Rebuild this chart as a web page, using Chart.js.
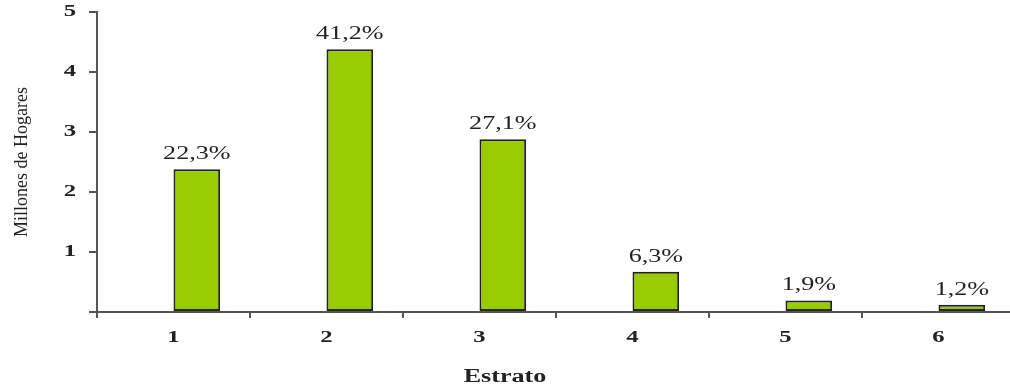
<!DOCTYPE html>
<html>
<head>
<meta charset="utf-8">
<script src="https://cdn.jsdelivr.net/npm/chart.js@4"></script>
<style>
  html, body { margin: 0; padding: 0; background: #fff; overflow: hidden; }
  #wrap { width: 1016px; height: 385px; }
</style>
</head>
<body>
<div id="wrap"><canvas id="chart"></canvas></div>
<script>
const estratos = ['1', '2', '3', '4', '5', '6'];
const millonesHogares = [2.38, 4.38, 2.88, 0.67, 0.19, 0.12];
const porcentajes = ['22,3%', '41,2%', '27,1%', '6,3%', '1,9%', '1,2%'];
const spacer = [null, null, null, null, null, null];

const serif = 'Liberation Serif';
const axisColor = '#555';
const textColor = '#222';
// the source image is stretched sideways, so its text is wide
const stretch = 1.45;

function wideText(ctx, text, x, y, font, baseline) {
  ctx.save();
  ctx.font = font;
  ctx.fillStyle = textColor;
  ctx.textAlign = 'center';
  ctx.textBaseline = baseline || 'middle';
  ctx.translate(x, y);
  ctx.scale(stretch, 1);
  ctx.fillText(text, 0, 0);
  ctx.restore();
}

const wideLabels = {
  id: 'wideLabels',
  afterDraw(chart) {
    const ctx = chart.ctx;
    const xs = chart.scales.x;
    const ys = chart.scales.y;
    const tickFont = 'bold 17px "' + serif + '"';

    chart.getDatasetMeta(1).data.forEach((bar, i) => {
      wideText(ctx, porcentajes[i], bar.x, bar.y - 6, '18px "' + serif + '"', 'bottom');
    });

    xs.ticks.forEach((t, i) => {
      wideText(ctx, estratos[i], xs.getPixelForTick(i), xs.top + 26, tickFont);
    });

    ys.ticks.forEach((t, i) => {
      if (t.value === 0) return;
      wideText(ctx, String(t.value), ys.right - 27, ys.getPixelForTick(i), tickFont);
    });

    wideText(ctx, 'Estrato', 505, 377, 'bold 18px "' + serif + '"');
  }
};

const ctx = document.getElementById('chart').getContext('2d');
new Chart(ctx, {
  type: 'bar',
  data: {
    labels: estratos,
    datasets: [
      { data: spacer, backgroundColor: 'transparent' },
      {
        label: 'Millones de Hogares',
        data: millonesHogares,
        backgroundColor: '#99cc00',
        borderColor: '#222',
        borderWidth: 2,
        borderSkipped: false,
      }
    ]
  },
  options: {
    responsive: true,
    maintainAspectRatio: false,
    animation: false,
    datasets: { bar: { categoryPercentage: 0.61, barPercentage: 1 } },
    layout: { padding: { top: 12, right: 1, left: 0, bottom: 0 } },
    plugins: {
      legend: { display: false },
      tooltip: { enabled: false },
    },
    scales: {
      x: {
        grid: {
          offset: true,
          drawOnChartArea: false,
          tickLength: 6,
          tickColor: axisColor,
          lineWidth: 2,
        },
        border: { color: axisColor, width: 2 },
        ticks: { color: 'rgba(0,0,0,0)', font: { family: serif, size: 6 } },
        afterFit(scale) {
          scale.height = 73;
          scale.paddingLeft = 0;
          scale.paddingRight = 0;
        }
      },
      y: {
        min: 0,
        max: 5,
        grid: {
          drawOnChartArea: false,
          tickLength: 8,
          tickColor: axisColor,
          lineWidth: 2,
        },
        border: { color: axisColor, width: 2 },
        ticks: {
          stepSize: 1,
          padding: 10,
          color: 'rgba(0,0,0,0)',
          font: { family: serif, size: 6 },
        },
        title: {
          display: true,
          text: 'Millones de Hogares',
          color: textColor,
          font: { family: serif, size: 18 },
          padding: { top: 11, bottom: 0 },
        },
        afterFit(scale) {
          scale.width = 97;
          scale.paddingTop = 0;
          scale.paddingBottom = 0;
        }
      }
    }
  },
  plugins: [wideLabels]
});
</script>
</body>
</html>
